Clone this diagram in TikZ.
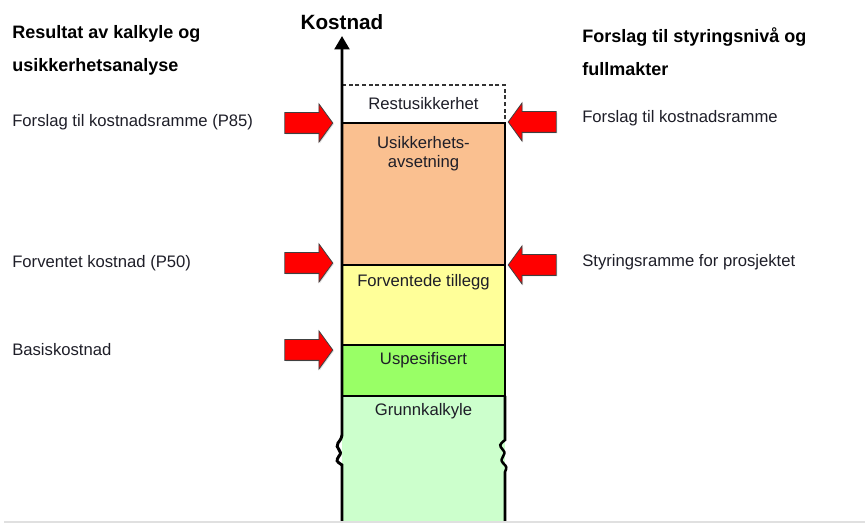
\documentclass[tikz,border=0pt]{standalone}
\usepackage{fontspec}
\setmainfont{Liberation Sans}
\usetikzlibrary{shapes.arrows,arrows.meta,positioning,shadows}
\definecolor{peach}{RGB}{250,192,144}
\definecolor{paleyellow}{RGB}{255,255,153}
\definecolor{brightgreen}{RGB}{153,255,102}
\definecolor{palegreen}{RGB}{204,255,204}
\definecolor{textdark}{RGB}{30,30,40}
\tikzstyle{pointer} = [
    single arrow,
    fill=red,
    draw=black!75,
    line width=0.6pt,
    inner xsep=0pt,
    inner ysep=7.5pt,
    minimum height=36pt,
    single arrow head extend=6.5pt,
    single arrow tip angle=108,
    drop shadow={opacity=0.25, shadow xshift=0.8pt, shadow yshift=-0.8pt}
]
\tikzstyle{layer} = [
    rectangle,
    draw=black,
    line width=1.9pt,
    minimum width=122.25pt,
    anchor=north west,
    inner sep=0pt,
    outer sep=0pt
]
\tikzstyle{layertext} = [
    anchor=north,
    align=center,
    inner sep=0pt,
    text=textdark,
    font=\fontsize{12.5}{14.5}\selectfont
]
\tikzstyle{note} = [
    anchor=west,
    inner sep=0pt,
    text=textdark,
    font=\fontsize{12.5}{15}\selectfont
]
\tikzstyle{heading} = [
    anchor=west,
    align=left,
    inner sep=0pt,
    font=\bfseries\fontsize{13.5}{24.75}\selectfont
]

\begin{document}
\begin{tikzpicture}[x=0.75pt, y=-0.75pt]
    \useasboundingbox (0,0) rectangle (865,523);

    % layers of the cost column
    \node[layer, draw=black!80, line width=1.2pt, dash pattern=on 3pt off 2pt, minimum height=28.5pt] (rest) at (342,85) {};
    \node[layer, fill=peach, minimum height=106.5pt] (usikk) at (342,123) {};
    \node[layer, fill=paleyellow, minimum height=60pt] (tillegg) at (342,265) {};
    \node[layer, fill=brightgreen, minimum height=38.25pt] (uspes) at (342,345) {};
    \node[layer, draw=none, fill=palegreen, minimum height=95.25pt] (grunn) at (342,396) {};
    \draw[line width=1.9pt] (uspes.south west) -- (uspes.south east);

    % right side of the base layer, with a break
    \coordinate (brkR) at (505,440);
    \draw[line width=1.9pt] (uspes.south east) -- (brkR)
        .. controls (499,445) .. (503,450)
        .. controls (508,455) and (498,458) .. (503,463)
        .. controls (507,467) .. (505,472) -- (505,526);

    % cost axis, with a break
    \coordinate (axisfoot) at (342,526);
    \coordinate (axistop) at (342,36);
    \draw[line width=2.2pt, -{Triangle[width=11pt,length=10pt]}] (axisfoot) -- (342,465)
        .. controls (336,461) .. (339,456)
        .. controls (344,451) and (334,448) .. (338,443)
        .. controls (341,439) .. (342,435) -- (axistop);
    \node[font=\bfseries\fontsize{15.5}{18}\selectfont, inner sep=0pt] (kostnad) at (342,22) {Kostnad};

    % texts in the column
    \node[layertext, anchor=center] (resttxt) at (rest.center) {Restusikkerhet};
    \node[layertext, below=9.5pt of usikk.north] (usikktxt) {Usikkerhets-\\avsetning};
    \node[layertext, below=7pt of tillegg.north] (tilleggtxt) {Forventede tillegg};
    \node[layertext, below=5pt of uspes.north] (uspestxt) {Uspesifisert};
    \node[layertext, below=5.5pt of grunn.north] (grunntxt) {Grunnkalkyle};

    % left side
    \node[heading] (venstre) at (12,50) {Resultat av kalkyle og\\usikkerhetsanalyse};
    \node[note] (p85) at (12,122) {Forslag til kostnadsramme (P85)};
    \node[note] (p50) at (12,263) {Forventet kostnad (P50)};
    \node[note] (basis) at (12,350) {Basiskostnad};
    \node[pointer] (pilP85) at (305,123) {};
    \node[pointer] (pilP50) at (305,263) {};
    \node[pointer] (pilBasis) at (305,350) {};

    % right side
    \node[heading] (hoyre) at (582,51.5) {Forslag til styringsnivå og\\fullmakter};
    \node[note] (ramme) at (582,118) {Forslag til kostnadsramme};
    \node[note] (styring) at (582,262) {Styringsramme for prosjektet};
    \node[pointer, shape border rotate=180] (pilRamme) at (536,122) {};
    \node[pointer, shape border rotate=180] (pilStyring) at (536,265) {};

    \draw[black!12, line width=0.8pt] (4,522) -- (865,522);
\end{tikzpicture}
\end{document}
